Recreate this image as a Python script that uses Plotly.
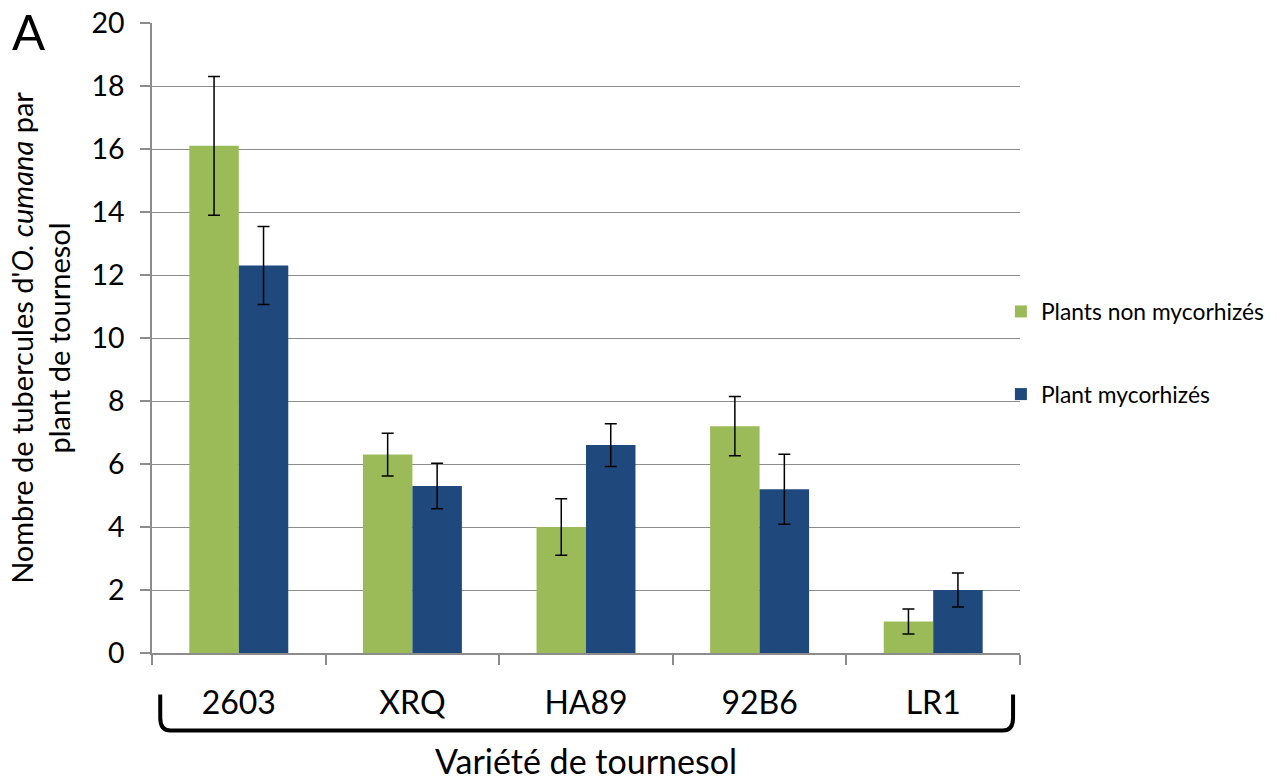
import plotly.graph_objects as go

# Sunflower varieties and tubercle counts per plant
varieties = ["2603", "XRQ", "HA89", "92B6", "LR1"]
non_myco = [16.1, 6.3, 4.0, 7.2, 1.0]
non_myco_err = [2.2, 0.68, 0.9, 0.94, 0.4]
myco = [12.3, 5.3, 6.6, 5.2, 2.0]
myco_err = [1.24, 0.72, 0.68, 1.11, 0.54]
y_ticks = [0, 2, 4, 6, 8, 10, 12, 14, 16, 18, 20]

FONT = "Lato, Carlito, 'Liberation Sans', sans-serif"
GREEN = "#9BBB59"
BLUE = "#1F497D"
GRID = "#8C8C8C"

fig = go.Figure()
fig.add_trace(go.Bar(
    x=varieties, y=non_myco, name="Plants non mycorhizés",
    marker=dict(color=GREEN, line=dict(width=0)),
    error_y=dict(type="data", array=non_myco_err, color="black", thickness=1.5, width=6),
    legendgroup="a",
))
fig.add_trace(go.Bar(
    x=varieties, y=myco, name="Plant mycorhizés",
    marker=dict(color=BLUE, line=dict(width=0)),
    error_y=dict(type="data", array=myco_err, color="black", thickness=1.5, width=6),
    legendgroup="b",
))

# Bracket grouping the variety labels
x0, x1 = 0.0095, 0.992
yt, yb = -0.066, -0.123
r = 0.012
ry = 0.02
bracket = (f"M {x0},{yt} L {x0},{yb + ry} Q {x0},{yb} {x0 + r},{yb} "
           f"L {x1 - r},{yb} Q {x1},{yb} {x1},{yb + ry} L {x1},{yt}")
fig.add_shape(type="path", xref="paper", yref="paper", path=bracket,
              line=dict(color="black", width=4))

fig.add_annotation(text="A", xref="paper", yref="paper", x=-0.164, y=1.036,
                   xanchor="left", yanchor="top", showarrow=False,
                   font=dict(family=FONT, size=49, color="black"))

fig.update_layout(
    width=1282, height=782,
    margin=dict(l=152, r=262, t=23, b=129),
    paper_bgcolor="white", plot_bgcolor="white",
    font=dict(family=FONT, color="black"),
    barmode="group", bargap=0.43, bargroupgap=0,
    legend=dict(x=0.978, y=0.476, xanchor="left", yanchor="middle",
                font=dict(family=FONT, size=22.8, color="black"),
                tracegroupgap=50, itemwidth=30, borderwidth=0,
                bgcolor="rgba(0,0,0,0)"),
    showlegend=True,
)
fig.update_xaxes(
    type="category", showline=True, linecolor=GRID, linewidth=1.5,
    ticks="outside", tickson="boundaries", ticklen=10, tickcolor=GRID, tickwidth=1.5,
    tickfont=dict(family=FONT, size=32, color="black"), ticklabelstandoff=21,
    showgrid=False, automargin=False,
    title=dict(text="Variété de tournesol", font=dict(family=FONT, size=34, color="black"),
               standoff=30),
)
fig.update_yaxes(
    range=[0, 20], tickvals=y_ticks, showline=True, linecolor=GRID, linewidth=1.5,
    ticks="outside", ticklen=10, tickcolor=GRID, tickwidth=1.5,
    tickfont=dict(family=FONT, size=28.5, color="black"), ticklabelstandoff=10,
    showgrid=True, gridcolor=GRID, gridwidth=1.2, zeroline=False, automargin=False,
    title=dict(text="Nombre de tubercules d'<i>O. cumana</i> par<br>plant de tournesol",
               font=dict(family=FONT, size=29, color="black"), standoff=12),
)

fig.write_html("out.html")
